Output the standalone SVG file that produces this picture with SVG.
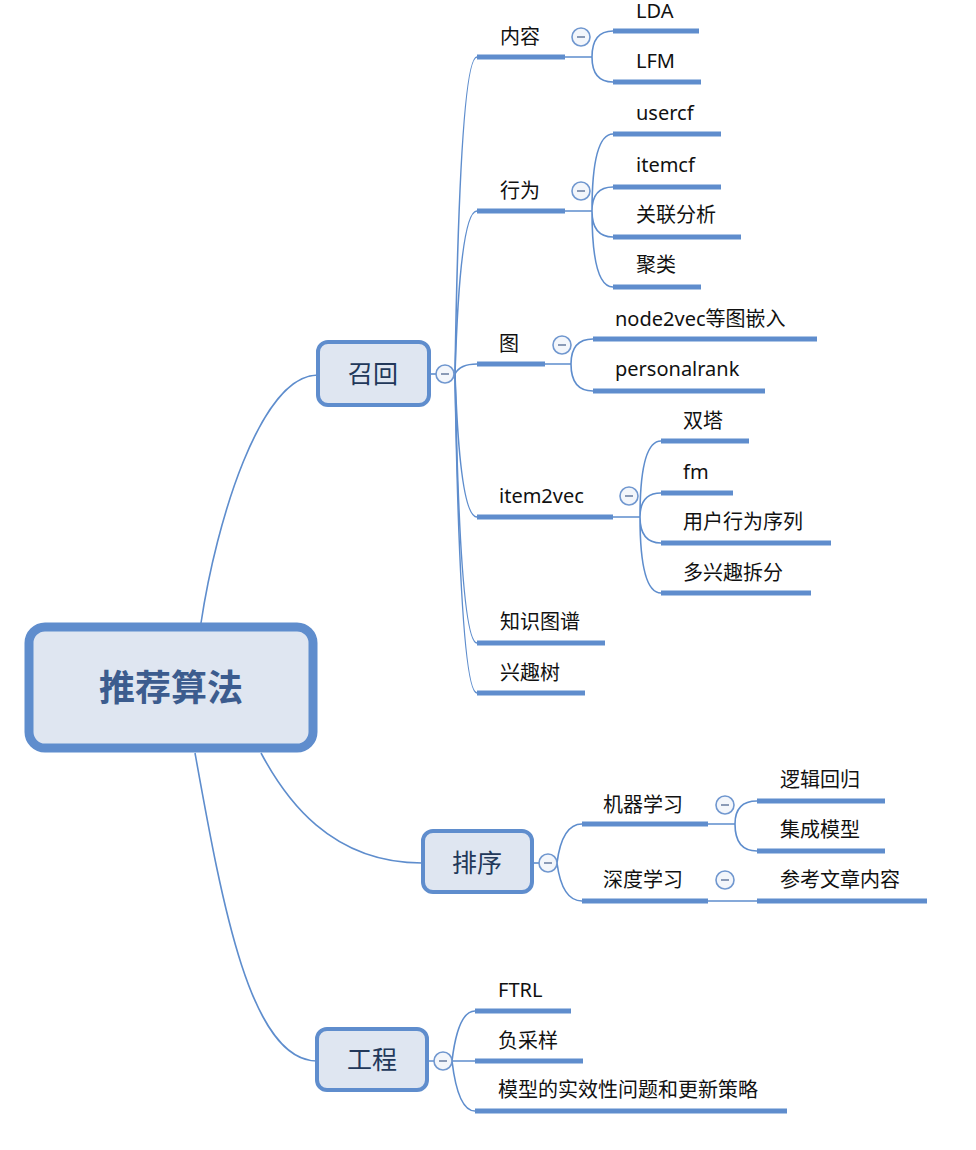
<svg xmlns="http://www.w3.org/2000/svg" width="976" height="1150" viewBox="0 0 976 1150">
<style>
.c{fill:none;stroke:#5e8dcd;stroke-width:1.6}
.bar{stroke:#5f8dcd;stroke-width:5;stroke-linecap:butt}
.t{font-family:"Noto Sans","Noto Sans CJK SC",sans-serif;font-size:20px;fill:#111}
.main rect{fill:#dfe6f1;stroke:#5f8dcd;stroke-width:4}
.mt{font-family:"Noto Sans CJK SC","Noto Sans",sans-serif;font-size:25px;fill:#22385a;text-anchor:middle}
.ct{font-family:"Noto Sans CJK SC","Noto Sans",sans-serif;font-size:36px;font-weight:bold;fill:#3c5c8e;text-anchor:middle}
</style>
<defs>
<g id="minus"><circle cx="0" cy="0" r="9" fill="#f3f6fb" stroke="#7097cf" stroke-width="1.6"/><line x1="-4" y1="0" x2="4" y2="0" stroke="#8a9ab6" stroke-width="2"/></g>
</defs>
<rect width="976" height="1150" fill="#fff"/>
<g id="connectors">
<path class="c" d="M201,623 C216,523 260,375 318,375"/>
<path class="c" d="M261,753 C285,798 330,863 422,863"/>
<path class="c" d="M195,753 C222,903 250,1061 317,1061"/>
<path class="c" d="M430,374 L455,374"/>
<path class="c" d="M455,374 Q460,57 477,57"/>
<path class="c" d="M455,374 Q460,211 477,211"/>
<path class="c" d="M455,374 Q460,364 477,364"/>
<path class="c" d="M455,374 Q460,517 477,517"/>
<path class="c" d="M455,374 Q460,643 477,643"/>
<path class="c" d="M455,374 Q460,693 477,693"/>
<path class="c" d="M565,57 L592,57 Q592,31 613,31 M592,57 Q592,82 613,82"/>
<path class="c" d="M565,211 L592,211 Q592,134 613,134 M592,211 Q592,187 613,187 M592,211 Q592,237 613,237 M592,211 Q592,287 613,287"/>
<path class="c" d="M545,364 L571,364 Q571,339 593,339 M571,364 Q571,391 593,391"/>
<path class="c" d="M613,517 L640,517 Q640,441 661,441 M640,517 Q640,493 661,493 M640,517 Q640,543 661,543 M640,517 Q640,593 661,593"/>
<path class="c" d="M533,863 L557,863"/>
<path class="c" d="M557,863 Q562,824 582,824 M557,863 Q562,901 582,901"/>
<path class="c" d="M708,824 L735,824 Q735,801 757,801 M735,824 Q735,851 757,851"/>
<path class="c" d="M708,901 L757,901"/>
<path class="c" d="M428,1061 L475,1061"/>
<path class="c" d="M452,1061 Q458,1011 475,1011 M452,1061 Q458,1111 475,1111"/>
</g>
<g id="root">
<rect x="29" y="627" width="284" height="121" rx="16" fill="#dfe6f1" stroke="#5f8dcd" stroke-width="9"/>
<text class="ct" x="171" y="701">推荐算法</text>
</g>
<g id="recall" class="main">
<rect x="318" y="342" width="111" height="63" rx="10"/>
<text class="mt" x="373" y="383">召回</text>
<use href="#minus" x="445" y="374"/>
</g>
<g id="rank" class="main">
<rect x="423" y="831" width="109" height="61" rx="10"/>
<text class="mt" x="477" y="872">排序</text>
<use href="#minus" x="548" y="863"/>
</g>
<g id="eng" class="main">
<rect x="317" y="1029" width="110" height="61" rx="10"/>
<text class="mt" x="372" y="1069">工程</text>
<use href="#minus" x="443" y="1061"/>
</g>
<g id="content"><line class="bar" x1="477" y1="57" x2="565" y2="57"/><text class="t" x="500" y="44">内容</text><use href="#minus" x="581" y="37"/></g>
<g id="lda"><line class="bar" x1="613" y1="31" x2="699" y2="31"/><text class="t" x="636" y="18">LDA</text></g>
<g id="lfm"><line class="bar" x1="613" y1="82" x2="701" y2="82"/><text class="t" x="636" y="68">LFM</text></g>
<g id="behavior"><line class="bar" x1="477" y1="211" x2="565" y2="211"/><text class="t" x="500" y="198">行为</text><use href="#minus" x="581" y="191"/></g>
<g id="usercf"><line class="bar" x1="613" y1="134" x2="721" y2="134"/><text class="t" x="636" y="120">usercf</text></g>
<g id="itemcf"><line class="bar" x1="613" y1="187" x2="721" y2="187"/><text class="t" x="636" y="172">itemcf</text></g>
<g id="assoc"><line class="bar" x1="613" y1="237" x2="741" y2="237"/><text class="t" x="636" y="222">关联分析</text></g>
<g id="cluster"><line class="bar" x1="613" y1="287" x2="701" y2="287"/><text class="t" x="636" y="272">聚类</text></g>
<g id="graph"><line class="bar" x1="477" y1="364" x2="545" y2="364"/><text class="t" x="499" y="351">图</text><use href="#minus" x="562" y="345"/></g>
<g id="node2vec"><line class="bar" x1="593" y1="339" x2="817" y2="339"/><text class="t" x="615" y="326">node2vec等图嵌入</text></g>
<g id="personalrank"><line class="bar" x1="593" y1="391" x2="765" y2="391"/><text class="t" x="615" y="376">personalrank</text></g>
<g id="item2vec"><line class="bar" x1="477" y1="517" x2="613" y2="517"/><text class="t" x="499" y="503">item2vec</text><use href="#minus" x="629" y="496"/></g>
<g id="twotower"><line class="bar" x1="661" y1="441" x2="749" y2="441"/><text class="t" x="683" y="428">双塔</text></g>
<g id="fm"><line class="bar" x1="661" y1="493" x2="733" y2="493"/><text class="t" x="683" y="479">fm</text></g>
<g id="userseq"><line class="bar" x1="661" y1="543" x2="831" y2="543"/><text class="t" x="683" y="529">用户行为序列</text></g>
<g id="multiint"><line class="bar" x1="661" y1="593" x2="811" y2="593"/><text class="t" x="683" y="580">多兴趣拆分</text></g>
<g id="kg"><line class="bar" x1="477" y1="643" x2="605" y2="643"/><text class="t" x="500" y="629">知识图谱</text></g>
<g id="inttree"><line class="bar" x1="477" y1="693" x2="585" y2="693"/><text class="t" x="500" y="680">兴趣树</text></g>
<g id="ml"><line class="bar" x1="582" y1="824" x2="708" y2="824"/><text class="t" x="603" y="812">机器学习</text><use href="#minus" x="725" y="805"/></g>
<g id="lr"><line class="bar" x1="757" y1="801" x2="885" y2="801"/><text class="t" x="780" y="787">逻辑回归</text></g>
<g id="ensemble"><line class="bar" x1="757" y1="851" x2="885" y2="851"/><text class="t" x="780" y="837">集成模型</text></g>
<g id="dl"><line class="bar" x1="582" y1="901" x2="708" y2="901"/><text class="t" x="603" y="887">深度学习</text><use href="#minus" x="725" y="880"/></g>
<g id="ref"><line class="bar" x1="757" y1="901" x2="927" y2="901"/><text class="t" x="780" y="887">参考文章内容</text></g>
<g id="ftrl"><line class="bar" x1="475" y1="1011" x2="571" y2="1011"/><text class="t" x="498" y="997">FTRL</text></g>
<g id="negsample"><line class="bar" x1="475" y1="1061" x2="583" y2="1061"/><text class="t" x="498" y="1048">负采样</text></g>
<g id="update"><line class="bar" x1="475" y1="1111" x2="787" y2="1111"/><text class="t" x="498" y="1097">模型的实效性问题和更新策略</text></g>
</svg>
